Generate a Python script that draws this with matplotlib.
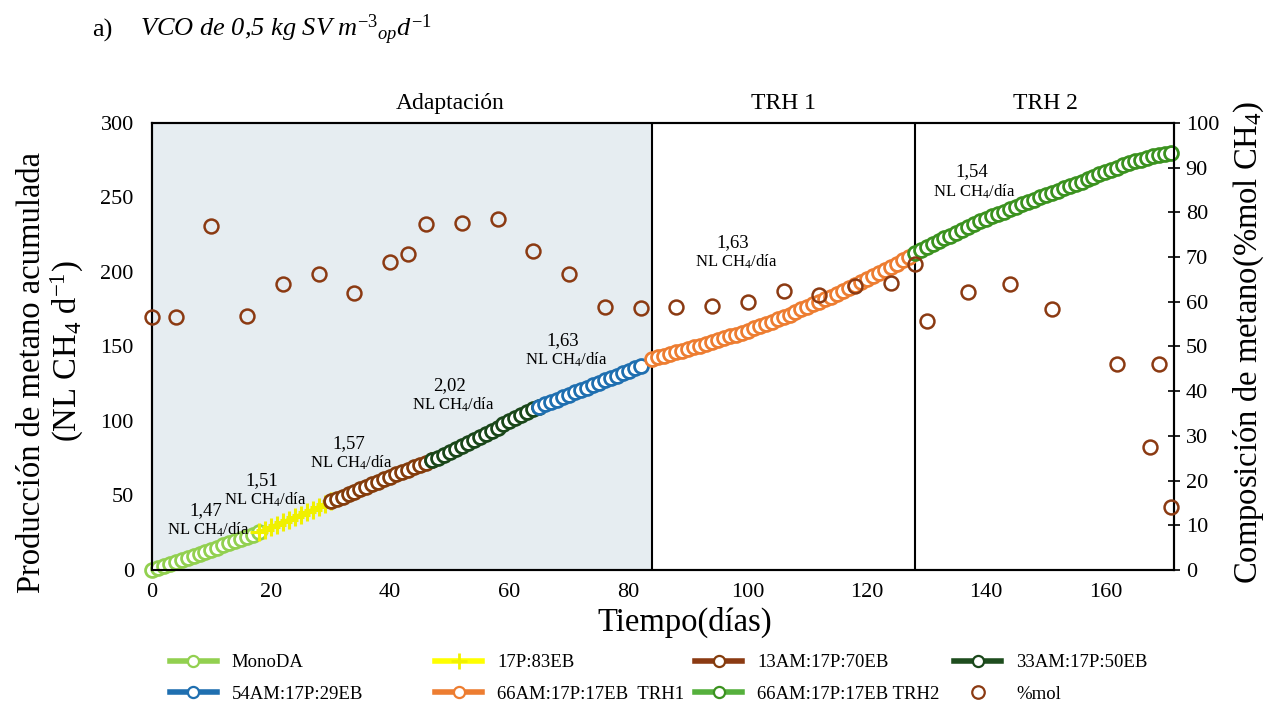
import numpy as np
import matplotlib
matplotlib.use('Agg')
from matplotlib import pyplot as plt
from matplotlib.lines import Line2D

plt.rcParams['font.family'] = 'Liberation Serif'
plt.rcParams['mathtext.fontset'] = 'custom'
plt.rcParams['mathtext.rm'] = 'Liberation Serif'
plt.rcParams['mathtext.it'] = 'Liberation Serif:italic'

# cumulative methane production (NL CH4), one value per day
MONO_DAYS = np.arange(0, 19)
MONO_VALS = [0.0, 1.3, 2.7, 4.0, 5.4, 6.8, 8.1, 9.5, 10.9, 12.3, 13.7, 15.1,
             16.5, 17.9, 19.3, 20.7, 22.2, 23.8, 25.5]

P17_DAYS = np.arange(18, 31)
P17_VALS = [25.5, 27.1, 28.8, 30.5, 32.1, 33.8, 35.5, 37.1, 38.8, 40.5, 42.2,
            44.0, 46.0]

AM13_DAYS = np.arange(30, 48)
AM13_VALS = [46.0, 47.6, 49.2, 50.8, 52.5, 54.2, 55.9, 57.6, 59.3, 61.0, 62.6,
             64.2, 65.8, 67.4, 69.0, 70.6, 72.1, 73.6]

AM33_DAYS = np.arange(47, 66)
AM33_VALS = [73.6, 75.4, 77.3, 79.2, 81.1, 83.1, 85.1, 87.2, 89.3, 91.4, 93.5,
             95.6, 97.7, 99.8, 101.9, 104.0, 106.1, 108.1, 109.5]

AM54_DAYS = np.arange(65, 83)
AM54_VALS = [109.5, 111.1, 112.7, 114.3, 115.9, 117.6, 119.2, 120.8, 122.4,
             124.0, 125.6, 127.2, 128.8, 130.4, 132.0, 133.6, 135.3, 137.0]

TRH1_DAYS = np.arange(84, 128)
TRH1_VALS = [141.5, 142.6, 143.8, 144.9, 146.0, 147.1, 148.3, 149.4, 150.5,
             151.7, 153.0, 154.2, 155.5, 156.7, 158.0, 159.2, 160.5,
             162.1, 163.6, 165.2, 166.7, 168.3, 169.9, 171.4, 173.0,
             174.8, 176.5, 178.3, 180.0, 181.8, 183.5, 185.3, 187.0,
             189.0, 191.0, 193.0, 195.0, 197.0, 199.0,
             201.2, 203.4, 205.6, 207.8, 210.0]

TRH2_DAYS = np.arange(128, 172)
TRH2_VALS = [212.5, 214.5, 216.5, 218.5, 220.5, 222.5,
             224.4, 226.3, 228.2, 230.2, 232.1, 234.0,
             235.6, 237.3, 238.9, 240.5, 242.1, 243.8, 245.4, 247.0,
             248.5, 250.0, 251.5, 253.0, 254.5, 256.0, 257.5, 259.0,
             260.6, 262.2, 263.8, 265.4, 267.0,
             268.5, 270.0, 271.5, 273.0,
             274.1, 275.3, 276.4, 277.5,
             278.3, 279.2, 280.0]

# methane composition (% mol CH4)
MOL_DAYS = [0, 4, 10, 16, 22, 28, 34, 40, 43, 46, 52, 58, 64, 70, 76, 82, 88,
            94, 100, 106, 112, 118, 124, 128, 130, 137, 144, 151, 162, 167.5,
            169, 171]
MOL_VALS = [56.5, 56.5, 77.0, 56.7, 63.9, 66.2, 61.9, 68.8, 70.7, 77.4, 77.6,
            78.5, 71.4, 66.1, 58.8, 58.6, 58.8, 59.1, 60.0, 62.5, 61.5, 63.6,
            64.2, 68.5, 55.8, 62.1, 64.0, 58.3, 46.0, 27.6, 46.0, 14.2]

RATE_LABELS = ['1,47', '1,51', '1,57', '2,02', '1,63', '1,63', '1,54']
RATE_X = [9, 18.5, 33, 50, 69, 97.5, 137.5]
RATE_Y = [40, 60, 85, 124, 154, 220, 267]


def main():

    fig = plt.figure(figsize=(12.76, 7.02), dpi=100)
    ax = fig.add_axes([0.119, 0.188, 0.801, 0.637])
    ax2 = ax.twinx()

    ax.axvspan(0, 84, color='#e6edf1', zorder=0, lw=0)
    ax.axvline(84, color='black', lw=1.5, zorder=1)
    ax.axvline(128, color='black', lw=1.5, zorder=1)

    series = [
        (MONO_DAYS, MONO_VALS, 'MonoDA', '#92d050', '#92d050', 'o'),
        (P17_DAYS, P17_VALS, '17P:83EB', '#ffff00', '#f0f000', '+'),
        (AM13_DAYS, AM13_VALS, '13AM:17P:70EB', '#8b3a12', '#843c0c', 'o'),
        (AM33_DAYS, AM33_VALS, '33AM:17P:50EB', '#1e4d1e', '#1a471a', 'o'),
        (AM54_DAYS, AM54_VALS, '54AM:17P:29EB', '#1f6fb0', '#1f6fb0', 'o'),
        (TRH1_DAYS, TRH1_VALS, '66AM:17P:17EB  TRH1', '#ed7d31', '#ed7d31',
         'o'),
        (TRH2_DAYS, TRH2_VALS, '66AM:17P:17EB TRH2', '#55b03c', '#3b921f',
         'o'),
    ]
    handles = []
    for days, vals, name, lc, mc, mk in series:
        if mk == 'o':
            ax.plot(days, vals, color=lc, lw=3, marker='o', ms=10,
                    mfc='white', mec=mc, mew=2.0, zorder=3, clip_on=False)
            h = Line2D([], [], color=lc, lw=4, marker='o', ms=8,
                       mfc='white', mec=mc, mew=1.6)
        else:
            ax.plot(days, vals, color=lc, lw=3, marker='+', ms=13,
                    mec=mc, mew=2.2, zorder=3, clip_on=False)
            h = Line2D([], [], color=lc, lw=4, marker='+', ms=12,
                       mec=mc, mew=2)
        handles.append((h, name))

    ax2.plot(MOL_DAYS, MOL_VALS, ls='none', marker='o', ms=10, mfc='none',
             mec='#8b3a12', mew=1.8, zorder=4, clip_on=False)
    handles.append((Line2D([], [], ls='none', marker='o', ms=9, mfc='none',
                           mec='#8b3a12', mew=1.6), '%mol'))

    for txt, x, y in zip(RATE_LABELS, RATE_X, RATE_Y):
        ax.text(x, y, txt, ha='center', va='center', fontsize=13.5)
        ax.text(x + 0.5, y - 13, 'NL CH$_4$/día', ha='center', va='center',
                fontsize=12)

    ax.set_xlim(0, 171.5)
    ax.set_ylim(0, 300)
    ax2.set_ylim(0, 100)
    ax.set_xticks(range(0, 161, 20))
    ax.set_yticks(range(0, 301, 50))
    ax2.set_yticks(range(0, 101, 10))
    ax.tick_params(axis='both', length=0, labelsize=16)
    ax.tick_params(axis='y', pad=13)
    ax.tick_params(axis='x', pad=9)
    ax2.tick_params(axis='y', direction='inout', length=9, width=1.2,
                    labelsize=16, pad=4)
    for a in (ax, ax2):
        for s in a.spines.values():
            s.set_linewidth(1.5)

    ax.set_xlabel('Tiempo(días)', fontsize=23.5)
    ax.xaxis.set_label_coords(0.521, -0.082)
    fig.text(0.025, 0.47, 'Producción de metano acumulada', rotation=90,
             ha='center', va='center', fontsize=23.5)
    fig.text(0.053, 0.50, '(NL CH$_4$ d$^{-1}$)', rotation=90,
             ha='center', va='center', fontsize=23.5)
    fig.text(0.979, 0.512, 'Composición de metano(%mol CH$_4$)',
             rotation=90, ha='center', va='center', fontsize=23.5)

    ax.text(50, 306, 'Adaptación', ha='center', va='bottom', fontsize=17)
    ax.text(106, 306, 'TRH 1', ha='center', va='bottom', fontsize=17)
    ax.text(150, 306, 'TRH 2', ha='center', va='bottom', fontsize=17)

    fig.text(0.072, 0.957, 'a)', fontsize=19, va='center')
    fig.text(0.110, 0.957,
             'VCO de 0,5 kg SV m$^{\\mathit{-3}}$$_{\\mathit{op}}$'
             '$\\mathit{d}^{\\mathit{-1}}$',
             fontsize=19, va='center', style='italic')

    col_x = [0.133, 0.341, 0.545, 0.748]
    for i, x in enumerate(col_x):
        col = [handles[i], handles[i + 4]]
        fig.legend([c[0] for c in col], [c[1] for c in col],
                   loc='upper left', bbox_to_anchor=(x, 0.068),
                   frameon=False, fontsize=13.5, borderaxespad=0,
                   borderpad=0, handlelength=2.5, handletextpad=0.8,
                   labelspacing=0.75)

    fig.savefig('out.png', dpi=100)


if __name__ == '__main__':

    main()
